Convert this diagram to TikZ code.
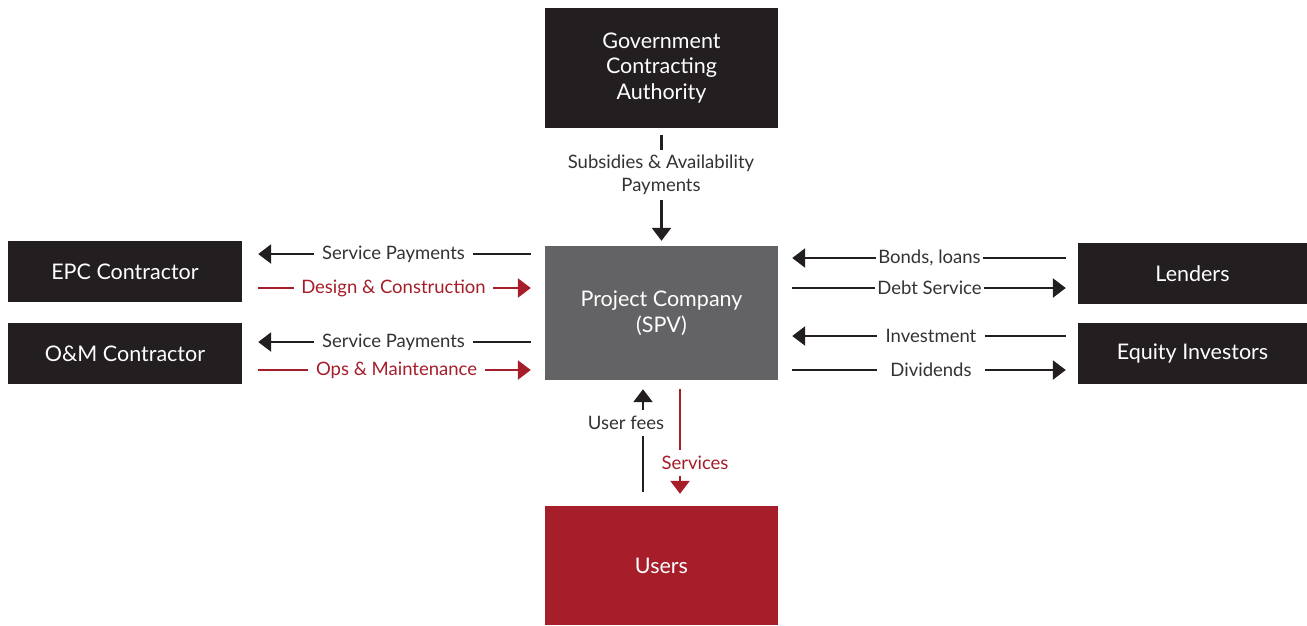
\documentclass[tikz,border=0pt]{standalone}
\usepackage{fontspec}
\setmainfont{Lato}
\usetikzlibrary{arrows.meta}
\definecolor{dk}{HTML}{231F20}
\definecolor{gr}{HTML}{636365}
\definecolor{rd}{HTML}{A51E2A}
\definecolor{tx}{HTML}{333333}
\tikzset{
  box/.style={draw=none, text=white, align=center, font=\fontsize{21.5}{25.5}\selectfont, inner sep=0pt},
  blk/.style={draw=dk, line width=2.6pt, -{Triangle[length=13pt,width=19pt]}},
  red/.style={draw=rd, line width=2.6pt, -{Triangle[length=13pt,width=19pt]}},
  lbl/.style={fill=white, text=tx, font=\fontsize{18.5}{23.5}\selectfont, inner ysep=1pt},
  rlbl/.style={lbl, text=rd},
}
\begin{document}
\begin{tikzpicture}[x=1pt,y=-1pt]
\useasboundingbox (0,0) rectangle (1307,625);
% boxes
\node[box, fill=dk, minimum width=233pt, minimum height=120pt] (gov) at (661.5,68) {Government\\Contracting\\Authority};
\node[box, fill=gr, minimum width=233pt, minimum height=134pt] (spv) at (661.5,313) {Project Company\\(SPV)};
\node[box, fill=rd, minimum width=233pt, minimum height=119pt] (users) at (661.5,565.5) {Users};
\node[box, fill=dk, minimum width=234pt, minimum height=61pt] (epc) at (125,271.5) {EPC Contractor};
\node[box, fill=dk, minimum width=234pt, minimum height=61pt] (om) at (125,353.5) {O\&M Contractor};
\node[box, fill=dk, minimum width=229pt, minimum height=61pt] (lend) at (1192.5,273.5) {Lenders};
\node[box, fill=dk, minimum width=229pt, minimum height=61pt] (eq) at (1192.5,353.5) {Equity Investors};
% government -> spv
\draw[blk, shorten <=7pt, shorten >=5pt] (gov.south) -- (spv.north);
\node[lbl, align=center, inner ysep=5pt, inner xsep=4pt] (sub) at (661,175) {Subsidies \& Availability\\Payments};
% left side
\draw[blk, shorten <=14pt, shorten >=16pt] (spv.west |- 0,254) -- node[lbl, inner xsep=8pt] (sp1) {Service Payments} (epc.east |- 0,254);
\draw[red, shorten <=16pt, shorten >=14pt] (epc.east |- 0,288) -- node[rlbl, inner xsep=7pt] (dc) {Design \& Construction} (spv.west |- 0,288);
\draw[blk, shorten <=14pt, shorten >=16pt] (spv.west |- 0,342) -- node[lbl, inner xsep=8pt] (sp2) {Service Payments} (om.east |- 0,342);
\draw[red, shorten <=16pt, shorten >=14pt] (om.east |- 0,370) -- node[rlbl, inner xsep=8pt, pos=0.51] (opm) {Ops \& Maintenance} (spv.west |- 0,370);
% right side
\draw[blk, shorten <=12pt, shorten >=14pt] (lend.west |- 0,258) -- node[lbl, inner xsep=2pt, pos=0.495] (bl) {Bonds, loans} (spv.east |- 0,258);
\draw[blk, shorten <=14pt, shorten >=12pt] (spv.east |- 0,288) -- node[lbl, inner xsep=2pt, pos=0.505] (ds) {Debt Service} (lend.west |- 0,288);
\draw[blk, shorten <=12pt, shorten >=14pt] (eq.west |- 0,336) -- node[lbl, inner xsep=9pt, pos=0.49] (inv) {Investment} (spv.east |- 0,336);
\draw[blk, shorten <=14pt, shorten >=12pt] (spv.east |- 0,370) -- node[lbl, inner xsep=13pt, pos=0.51] (div) {Dividends} (eq.west |- 0,370);
% users
\draw[blk, shorten <=14pt, shorten >=9pt] (users.north -| 643,0) -- (spv.south -| 643,0);
\node[lbl, inner ysep=6pt, inner xsep=1pt] (uf) at (626,423) {User fees};
\draw[red, shorten <=9pt, shorten >=12pt] (spv.south -| 680,0) -- (users.north -| 680,0);
\node[rlbl, inner ysep=6pt, inner xsep=1pt] (svc) at (695,463) {Services};
\end{tikzpicture}
\end{document}
